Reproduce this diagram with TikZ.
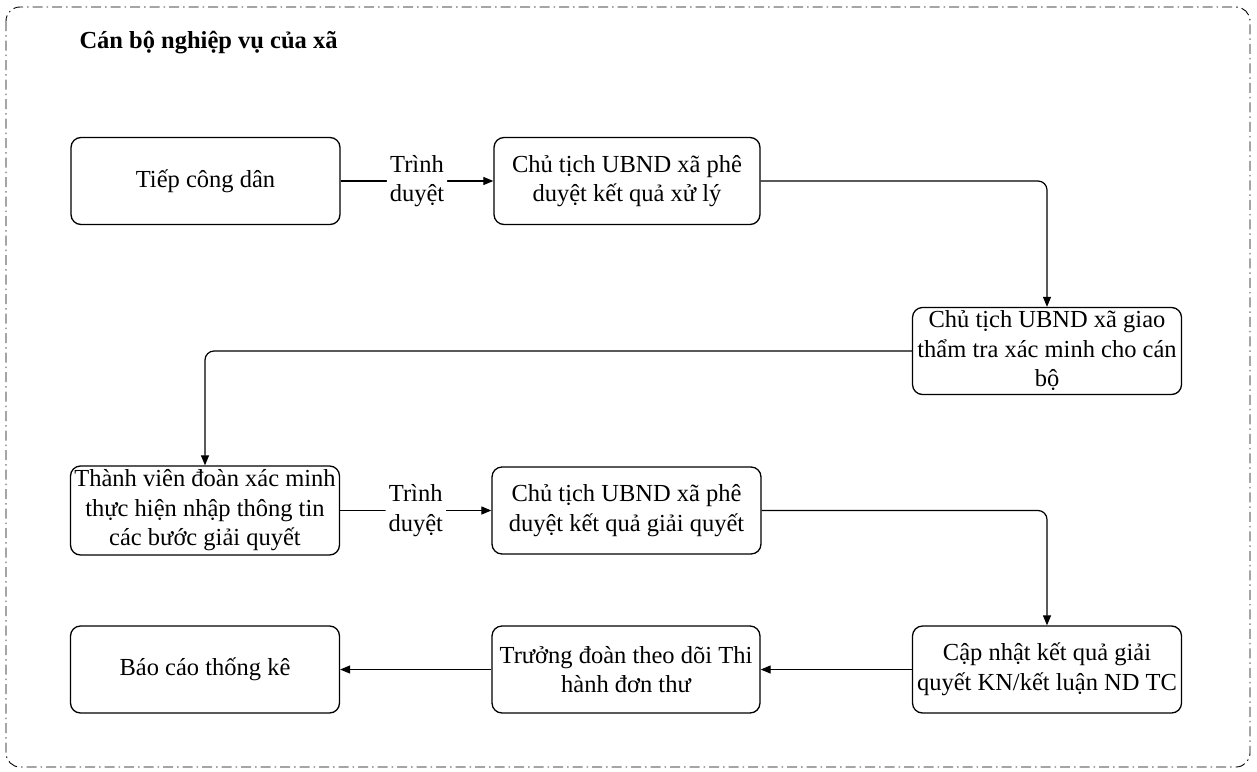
\documentclass[tikz,border=0pt]{standalone}
\usepackage{fontspec}
\setmainfont{Liberation Serif}
\usetikzlibrary{arrows.meta}
\begin{document}
\begin{tikzpicture}[x=1pt,y=-1pt,
  txt/.style={font=\fontsize{24.5}{29.5}\selectfont, align=center},
  box/.style={txt, draw, line width=1.3pt, rounded corners=10pt,
    minimum width=269pt, minimum height=87pt, inner sep=1pt},
  conn/.style={line width=1.2pt, rounded corners=9pt,
    -{Triangle[length=10pt,width=8pt]}},
  lbl/.style={txt, fill=white, inner sep=3pt}]
\useasboundingbox (0,0) rectangle (1257,771);
\draw[line width=0.9pt, rounded corners=14pt,
  dash pattern=on 10pt off 4pt on 1.5pt off 4pt] (6,7) rectangle (1250,767);
\node[anchor=base west, font=\fontsize{24.5}{29.5}\selectfont\bfseries] (title) at (76,48) {Cán bộ nghiệp vụ của xã};

\node[box] (A) at (205.5,181) {Tiếp công dân};
\node[box, minimum width=266pt] (B) at (627,181) {Chủ tịch UBND xã phê\\duyệt kết quả xử lý};
\node[box] (C) at (1047,351) {Chủ tịch UBND xã giao\\thẩm tra xác minh cho cán\\bộ};
\node[box, minimum height=89pt] (D) at (205,510.5) {Thành viên đoàn xác minh\\thực hiện nhập thông tin\\các bước giải quyết};
\node[box] (E) at (626.5,510.5) {Chủ tịch UBND xã phê\\duyệt kết quả giải quyết};
\node[box] (F) at (1047,669.5) {Cập nhật kết quả giải\\quyết KN/kết luận ND TC};
\node[box, minimum width=268pt] (G) at (626,669.5) {Trưởng đoàn theo dõi Thi\\hành đơn thư};
\node[box] (H) at (205,669.5) {Báo cáo thống kê};

\draw[conn] (A) -- node[lbl] {Trình\\duyệt} (B);
\draw[conn] (B.east) -| (C.north);
\draw[conn] (C.west) -| (D.north);
\draw[conn] (D) -- node[lbl] {Trình\\duyệt} (E);
\draw[conn] (E.east) -| (F.north);
\draw[conn] (F) -- (G);
\draw[conn] (G) -- (H);
\end{tikzpicture}
\end{document}
